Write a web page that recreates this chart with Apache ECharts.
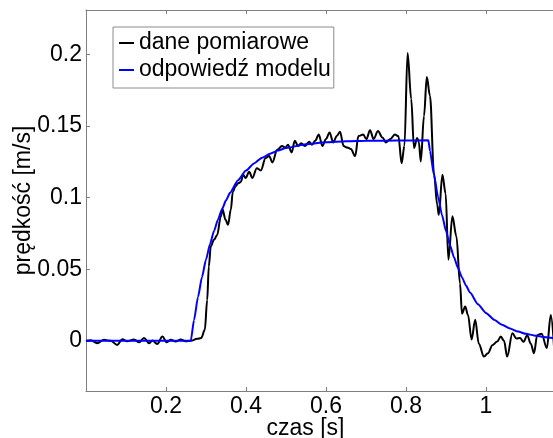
<!DOCTYPE html>
<html>
<head>
<meta charset="utf-8">
<script src="https://cdn.jsdelivr.net/npm/echarts@6/dist/echarts.min.js"></script>
<style>
html,body{margin:0;padding:0;background:#fff;}
#chart{width:553px;height:438px;}
</style>
</head>
<body>
<div id="chart"></div>
<script>
// measured data (dane pomiarowe)
var measT = [0.0,0.012,0.028,0.045,0.062,0.078,0.091,0.103,0.12,0.133,0.145,0.158,0.166,0.178,0.191,0.202,0.212,0.224,0.237,0.249,0.262,0.278,0.288,0.297,0.303,0.307,0.312,0.320,0.328,0.337,0.341,0.349,0.355,0.362,0.367,0.374,0.380,0.387,0.393,0.399,0.408,0.416,0.427,0.437,0.449,0.458,0.466,0.478,0.490,0.499,0.505,0.514,0.522,0.530,0.538,0.547,0.558,0.565,0.573,0.582,0.591,0.600,0.609,0.618,0.627,0.635,0.644,0.653,0.662,0.673,0.681,0.693,0.701,0.710,0.719,0.730,0.741,0.750,0.761,0.772,0.781,0.789,0.796,0.804,0.813,0.820,0.828,0.832,0.837,0.845,0.852,0.860,0.870,0.878,0.882,0.891,0.899,0.906,0.916,0.926,0.935,0.940,0.948,0.955,0.964,0.973,0.982,0.995,1.005,1.016,1.028,1.037,1.045,1.053,1.066,1.076,1.085,1.094,1.103,1.112,1.120,1.128,1.139,1.152,1.162,1.170];
var measV = [0.0,0.0005,-0.0016,0.0007,0.0,-0.0028,0.0012,-0.0003,0.001,-0.001,0.002,-0.0016,0.0003,-0.0022,0.003,-0.001,0.0007,-0.0005,0.001,-0.0003,0.0,0.0014,0.002,0.0077,0.0286,0.052,0.066,0.0706,0.074,0.0868,0.092,0.0845,0.081,0.0915,0.104,0.108,0.110,0.111,0.116,0.1137,0.118,0.1137,0.1206,0.119,0.1276,0.129,0.1246,0.1334,0.136,0.135,0.137,0.1315,0.1397,0.136,0.138,0.136,0.139,0.137,0.1397,0.144,0.136,0.141,0.1455,0.1385,0.143,0.146,0.136,0.135,0.134,0.129,0.143,0.144,0.1408,0.147,0.141,0.1465,0.142,0.1385,0.141,0.144,0.143,0.124,0.136,0.201,0.169,0.1346,0.1416,0.139,0.1253,0.157,0.1842,0.171,0.117,0.095,0.088,0.116,0.103,0.0566,0.087,0.073,0.040,0.019,0.024,0.018,0.001,0.0147,-0.002,-0.011,-0.0086,-0.003,-0.0005,0.003,0.0,-0.011,0.0054,0.0016,0.002,-0.0007,0.004,-0.002,-0.0086,0.004,0.005,-0.005,0.018,-0.004];

// model response (odpowiedź modelu)
var modelT = [0.0,0.1,0.2,0.262,0.27,0.28,0.29,0.30,0.31,0.32,0.33,0.34,0.35,0.36,0.38,0.40,0.42,0.44,0.46,0.48,0.50,0.55,0.60,0.65,0.70,0.75,0.80,0.856,0.86,0.87,0.88,0.89,0.90,0.91,0.92,0.93,0.94,0.95,0.96,0.98,1.00,1.02,1.04,1.06,1.08,1.10,1.12,1.14,1.16,1.17];
var modelV = [0.0,0.0,0.0,0.0,0.0145,0.0306,0.0446,0.0568,0.0675,0.0767,0.0848,0.0919,0.0981,0.1034,0.1122,0.1189,0.1239,0.1278,0.1307,0.1329,0.1346,0.1373,0.1386,0.1393,0.1397,0.1398,0.1399,0.1400,0.1325,0.1156,0.1008,0.0879,0.0766,0.0668,0.0583,0.0508,0.0443,0.0386,0.0337,0.0256,0.0195,0.0148,0.0113,0.0086,0.0065,0.0049,0.0038,0.0029,0.0022,0.0019];

var seriesNames = ['dane pomiarowe', 'odpowiedź modelu'];
var xTicks = [0.2, 0.4, 0.6, 0.8, 1];
var yTicks = [0, 0.05, 0.1, 0.15, 0.2];
var xName = 'czas [s]';
var yName = 'prędkość [m/s]';

function pairs(t, v) { return t.map(function (x, i) { return [x, v[i]]; }); }

var FONT = 'Liberation Sans, Arial, sans-serif';
var FS = 23;
var axisGrey = '#7f7f7f';

var chart = echarts.init(document.getElementById('chart'), null, {renderer: 'canvas'});
chart.setOption({
  animation: false,
  backgroundColor: '#ffffff',
  grid: {left: 86, top: 10, width: 469, height: 381, containLabel: false, outerBoundsMode: 'none'},
  legend: {
    orient: 'vertical',
    left: 113, top: 27,
    padding: [4, 3, 6, 6],
    backgroundColor: '#ffffff',
    borderColor: '#8c8c8c',
    borderWidth: 1,
    itemWidth: 15, itemHeight: 2, itemGap: 3,
    icon: 'rect',
    textStyle: {fontFamily: FONT, fontSize: FS, color: '#000', lineHeight: 24},
    data: seriesNames
  },
  xAxis: [{
    type: 'value', min: 0, max: 1.1725, position: 'bottom',
    name: xName, nameLocation: 'middle', nameGap: 26, nameMoveOverlap: false,
    nameTextStyle: {fontFamily: FONT, fontSize: FS, color: '#000', padding: [0, 30, 0, 0]},
    axisLine: {show: true, onZero: false, lineStyle: {color: axisGrey, width: 1}},
    axisTick: {show: true, inside: true, length: 4, customValues: xTicks, lineStyle: {color: axisGrey}},
    axisLabel: {show: true, customValues: xTicks, margin: 4, fontFamily: FONT, fontSize: FS, color: '#000'},
    splitLine: {show: false}
  }, {
    type: 'value', min: 0, max: 1.1725, position: 'top',
    axisLine: {show: true, onZero: false, lineStyle: {color: axisGrey, width: 1}},
    axisTick: {show: true, inside: true, length: 4, customValues: xTicks, lineStyle: {color: axisGrey}},
    axisLabel: {show: false},
    splitLine: {show: false}
  }],
  yAxis: {
    type: 'value', min: -0.035, max: 0.231,
    name: yName, nameLocation: 'middle', nameGap: 51, nameRotate: 90, nameMoveOverlap: false,
    nameTextStyle: {fontFamily: FONT, fontSize: FS, color: '#000'},
    axisLine: {show: true, onZero: false, lineStyle: {color: axisGrey, width: 1}},
    axisTick: {show: true, inside: true, length: 4, customValues: yTicks, lineStyle: {color: axisGrey}},
    axisLabel: {show: true, customValues: yTicks, margin: 4, fontFamily: FONT, fontSize: FS, color: '#000'},
    splitLine: {show: false}
  },
  series: [{
    name: seriesNames[0], type: 'line', xAxisIndex: 0,
    data: pairs(measT, measV),
    showSymbol: false, symbol: 'none',
    smooth: 0.35, smoothMonotone: 'x',
    lineStyle: {color: '#000000', width: 2},
    itemStyle: {color: '#000000'}
  }, {
    name: seriesNames[1], type: 'line', xAxisIndex: 0,
    data: pairs(modelT, modelV),
    showSymbol: false, symbol: 'none',
    smooth: 0.2, smoothMonotone: 'x',
    lineStyle: {color: '#0000ff', width: 2},
    itemStyle: {color: '#0000ff'}
  }]
});
</script>
</body>
</html>
